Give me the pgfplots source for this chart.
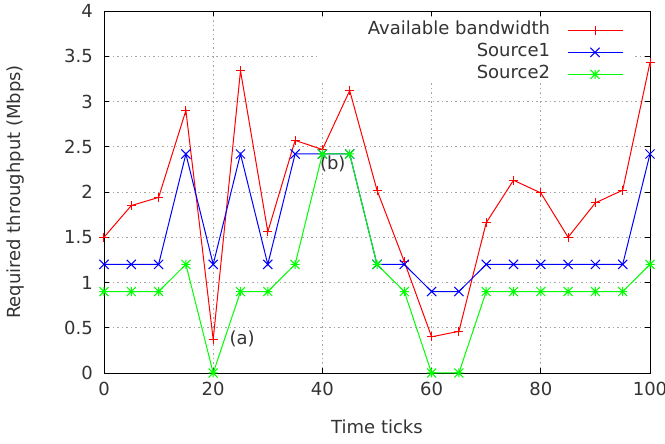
\documentclass[border=0pt]{standalone}
\usepackage{pgfplots}
\pgfplotsset{compat=1.18}
\usepackage{fontspec}
\setmainfont{DejaVu Sans}
\pgfdeclareplotmark{plusx}{%
  \pgfpathmoveto{\pgfqpoint{-\pgfplotmarksize}{0pt}}%
  \pgfpathlineto{\pgfqpoint{\pgfplotmarksize}{0pt}}%
  \pgfpathmoveto{\pgfqpoint{0pt}{-\pgfplotmarksize}}%
  \pgfpathlineto{\pgfqpoint{0pt}{\pgfplotmarksize}}%
  \pgfpathmoveto{\pgfqpoint{-\pgfplotmarksize}{-\pgfplotmarksize}}%
  \pgfpathlineto{\pgfqpoint{\pgfplotmarksize}{\pgfplotmarksize}}%
  \pgfpathmoveto{\pgfqpoint{-\pgfplotmarksize}{\pgfplotmarksize}}%
  \pgfpathlineto{\pgfqpoint{\pgfplotmarksize}{-\pgfplotmarksize}}%
  \pgfusepathqstroke}
\definecolor{txt}{HTML}{333333}
\begin{document}
\begin{tikzpicture}[x=1pt,y=1pt]
\useasboundingbox (-104,-71) rectangle (561,373);
\begin{axis}[
  at={(0,0)}, anchor=south west,
  scale only axis, width=546pt, height=362pt,
  xmin=0, xmax=100, ymin=0, ymax=4,
  xtick={0,20,40,60,80,100},
  ytick={0,0.5,1,1.5,2,2.5,3,3.5,4},
  grid=major,
  grid style={dash pattern=on 1.5pt off 3pt, gray!70, line width=0.8pt},
  tick align=inside, tick pos=both,
  major tick length=5pt,
  tick style={black, line width=0.8pt},
  axis line style={black, line width=0.8pt},
  font=\fontsize{18}{21}\selectfont,
  /pgf/number format/assume math mode=true,
  tick label style={inner sep=0pt, text=txt},
  yticklabel shift=11pt,
  xticklabel shift=8.5pt,
  xlabel={Time ticks},
  ylabel={Required throughput (Mbps)},
  label style={text=txt},
  xlabel style={at={(axis description cs:0.5,0)}, anchor=center, yshift=-54pt},
  ylabel style={at={(axis description cs:0,0.5)}, anchor=center, yshift=88pt},
  clip=false,
  legend plot pos=right,
  legend cell align=right,
  legend style={at={(axis description cs:0.9565,0.976)}, anchor=north east,
    draw=none, fill=none, text=txt,
    nodes={inner sep=0pt, text height=13pt, text depth=4pt},
    row sep=5pt, column sep=17pt,
    font=\fontsize{18}{21}\selectfont},
  legend image code/.code={%
    \draw[#1, mark repeat=2, mark phase=2] plot coordinates {(0pt,0pt) (27.5pt,0pt) (55pt,0pt)};},
]
\fill[white] (axis cs:39.5,3.92) rectangle (axis cs:97.3,3.24);
\addplot[red, line width=1pt, mark=+, mark size=4.5pt] coordinates {
(0,1.5)(5,1.85)(10,1.94)(15,2.9)(20,0.37)(25,3.34)(30,1.56)(35,2.57)(40,2.47)(45,3.12)(50,2.02)(55,1.23)(60,0.4)(65,0.46)(70,1.66)(75,2.13)(80,1.99)(85,1.5)(90,1.88)(95,2.02)(100,3.43)};
\addlegendentry{Available bandwidth}
\addplot[blue, line width=1pt, mark=x, mark size=6.5pt] coordinates {
(0,1.2)(5,1.2)(10,1.2)(15,2.42)(20,1.2)(25,2.42)(30,1.2)(35,2.42)(40,2.42)(45,2.42)(50,1.2)(55,1.2)(60,0.9)(65,0.9)(70,1.2)(75,1.2)(80,1.2)(85,1.2)(90,1.2)(95,1.2)(100,2.42)};
\addlegendentry{Source1}
\addplot[green, line width=1pt, mark=plusx, mark size=4.5pt] coordinates {
(0,0.9)(5,0.9)(10,0.9)(15,1.2)(20,0)(25,0.9)(30,0.9)(35,1.2)(40,2.42)(45,2.42)(50,1.2)(55,0.9)(60,0)(65,0)(70,0.9)(75,0.9)(80,0.9)(85,0.9)(90,0.9)(95,0.9)(100,1.2)};
\addlegendentry{Source2}
\node[text=txt, font=\fontsize{18}{21}\selectfont] at (axis cs:25.3,0.376) {(a)};
\node[text=txt, font=\fontsize{18}{21}\selectfont] at (axis cs:41.9,2.31) {(b)};
\end{axis}
\end{tikzpicture}
\end{document}
